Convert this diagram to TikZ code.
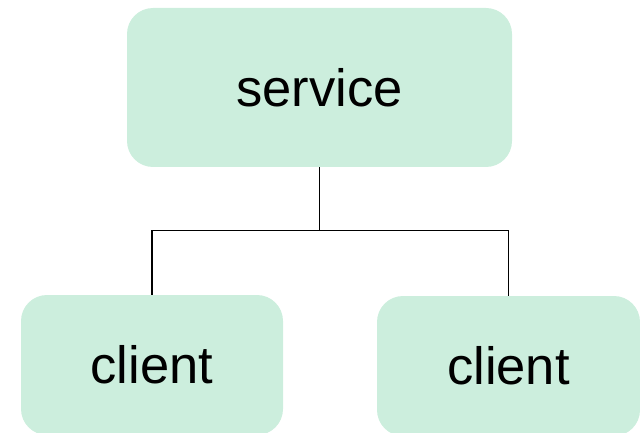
\documentclass[tikz,border=0pt]{standalone}
\usepackage{fontspec}
\setmainfont{Liberation Sans}
\definecolor{mint}{HTML}{CCEEDD}
\begin{document}
\begin{tikzpicture}[x=1pt,y=-1pt,
  box/.style={fill=mint, rounded corners=26pt, inner sep=0pt,
    font=\fontsize{52.5}{60}\selectfont},
  link/.style={line width=1.6pt, black}]
\useasboundingbox (0,0) rectangle (640,433);
\clip (0,0) rectangle (640,433);
\node[box, minimum width=385pt, minimum height=159pt] (service) at (319.5,87.5) {service};
\node[box, minimum width=262pt, minimum height=140pt] (clientA) at (152,365) {client};
\node[box, minimum width=263pt, minimum height=140pt] (clientB) at (508.5,366) {client};
\coordinate (split) at (319.5,230.5);
\draw[link] (service.south) -- (split) -| (clientA.north);
\draw[link] (split) -| (clientB.north);
\end{tikzpicture}
\end{document}
